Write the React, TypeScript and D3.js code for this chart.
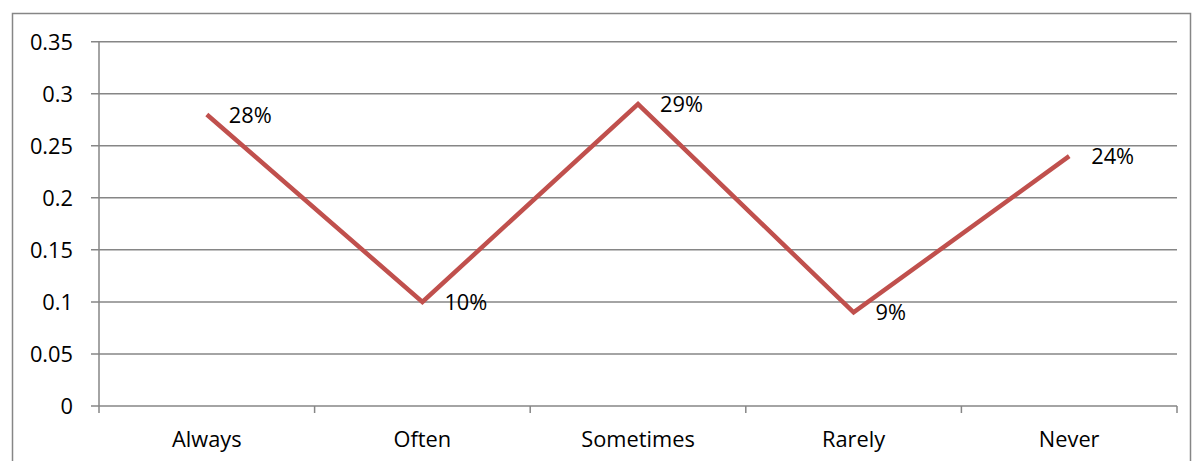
import React from "react";
import * as d3 from "d3";

const categories = ["Always", "Often", "Sometimes", "Rarely", "Never"];
const values = [0.28, 0.1, 0.29, 0.09, 0.24];
const dataLabels = ["28%", "10%", "29%", "9%", "24%"];
const yTicks = [0, 0.05, 0.1, 0.15, 0.2, 0.25, 0.3, 0.35];
const yTickLabels = ["0", "0.05", "0.1", "0.15", "0.2", "0.25", "0.3", "0.35"];

export default function App() {
  const W = 1192, H = 461;
  const left = 99, right = 1177, top = 41.7, bottom = 406;
  const x = d3.scaleBand<string>().domain(categories).range([left, right]);
  const y = d3.scaleLinear().domain([0, 0.35]).range([bottom, top]);
  const cx = (c: string) => (x(c) as number) + x.bandwidth() / 2;
  const line = d3.line<number>().x((_, i) => cx(categories[i])).y((v) => y(v));
  const font = "'Open Sans', sans-serif";
  const fs = 21.8;
  const half = 8.1;
  const grid = "#868686";
  const catTicks = categories.map((c) => x(c) as number).concat([right]);
  return (
    <div style={{ position: "absolute", left: 0, top: 0 }}>
      <svg width={W} height={H} style={{ display: "block" }}>
        <rect x={0} y={0} width={W} height={H} fill="#fff" />
        <rect x={12.5} y={13.5} width={1178} height={460} fill="none" stroke={grid} strokeWidth={1.5} />
        {yTicks.map((t, i) => (
          <g key={i}>
            <line x1={91} x2={right} y1={y(t)} y2={y(t)} stroke={grid} strokeWidth={1.5} />
            <text x={73} y={y(t) + half} textAnchor="end" fontFamily={font} fontSize={fs} fill="#000">
              {yTickLabels[i]}
            </text>
          </g>
        ))}
        <line x1={left} x2={left} y1={top} y2={bottom} stroke={grid} strokeWidth={1.5} />
        {catTicks.map((t, i) => (
          <line key={i} x1={t} x2={t} y1={bottom} y2={bottom + 7} stroke={grid} strokeWidth={1.5} />
        ))}
        {categories.map((c) => (
          <text key={c} x={cx(c)} y={446.5} textAnchor="middle" fontFamily={font} fontSize={fs} fill="#000">
            {c}
          </text>
        ))}
        <path d={line(values) || ""} fill="none" stroke="#C0504D" strokeWidth={4.5} strokeLinejoin="miter" />
        {values.map((v, i) => (
          <text key={i} x={cx(categories[i]) + 22} y={y(v) + half} fontFamily={font} fontSize={fs} fill="#000">
            {dataLabels[i]}
          </text>
        ))}
      </svg>
    </div>
  );
}
